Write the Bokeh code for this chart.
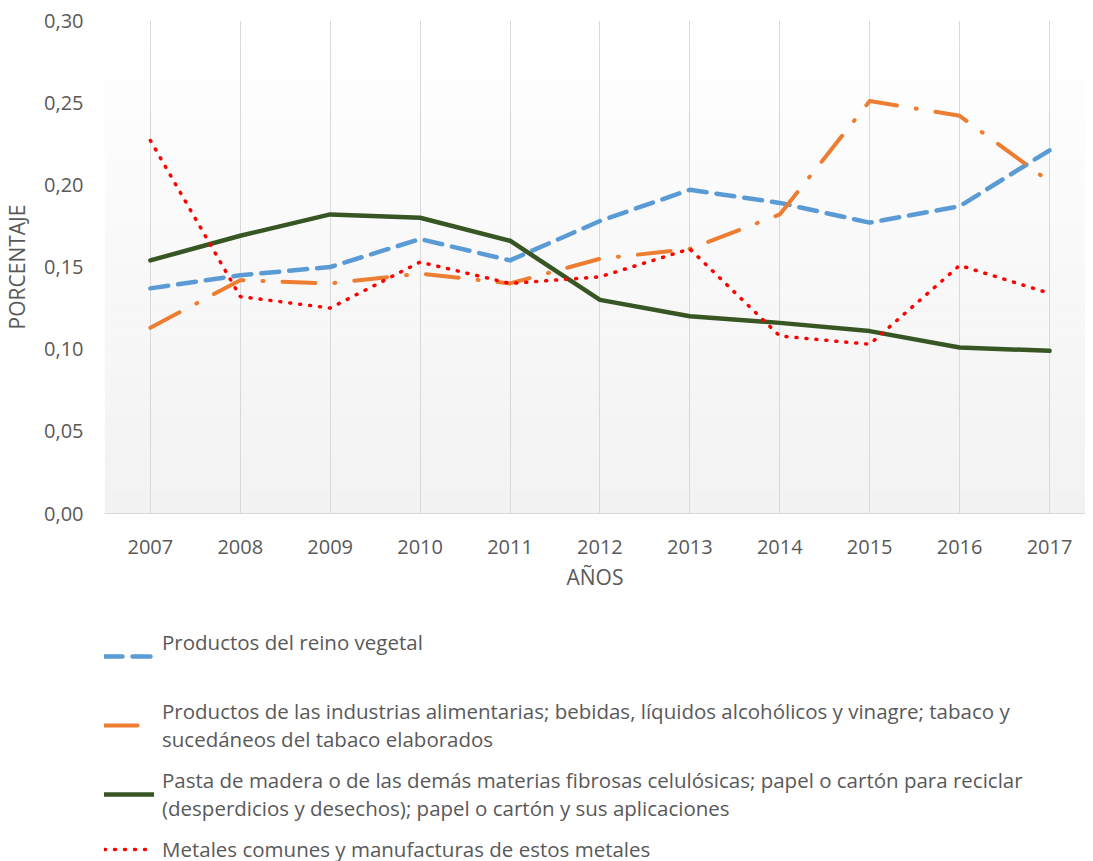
from bokeh.plotting import figure
from bokeh.layouts import column
from bokeh.models import (Legend, LegendItem, FixedTicker, CustomJSTickFormatter,
                          BoxAnnotation, Range1d)
from bokeh.embed import file_html
from bokeh.resources import INLINE

years = [2007, 2008, 2009, 2010, 2011, 2012, 2013, 2014, 2015, 2016, 2017]
vegetal = [0.137, 0.145, 0.150, 0.167, 0.154, 0.178, 0.197, 0.189, 0.177, 0.187, 0.221]
alimentarias = [0.113, 0.142, 0.140, 0.146, 0.140, 0.155, 0.161, 0.182, 0.251, 0.242, 0.202]
pasta = [0.154, 0.169, 0.182, 0.180, 0.166, 0.130, 0.120, 0.116, 0.111, 0.101, 0.099]
metales = [0.227, 0.132, 0.125, 0.153, 0.140, 0.144, 0.161, 0.108, 0.103, 0.151, 0.134]

series_labels = [
    "Productos del reino vegetal\n ",
    "Productos de las industrias alimentarias; bebidas, líquidos alcohólicos y vinagre; tabaco y\nsucedáneos del tabaco elaborados",
    "Pasta de madera o de las demás materias fibrosas celulósicas; papel o cartón para reciclar\n(desperdicios y desechos); papel o cartón y sus aplicaciones",
    "Metales comunes y manufacturas de estos metales",
]
y_ticks = [0.0, 0.05, 0.10, 0.15, 0.20, 0.25, 0.30]
x_title = "AÑOS"
y_title = "PORCENTAJE"

FONT = "Open Sans"
TXT = "#595959"

STYLES = [
    dict(line_color="#5B9BD5", line_width=4.5, line_dash="18 10"),
    dict(line_color="#ED7D31", line_width=4, line_dash="33 19 1 19"),
    dict(line_color="#375623", line_width=4.5, line_dash="solid"),
    dict(line_color="#FF0000", line_width=3.5, line_dash="1 9"),
]
SERIES = [vegetal, alimentarias, pasta, metales]

p = figure(width=1085, height=600, output_backend="svg", toolbar_location=None,
           x_range=Range1d(2006.49, 2017.40), y_range=Range1d(0, 0.30),
           min_border_left=97, min_border_right=0, min_border_top=20, min_border_bottom=87)
p.outline_line_color = None
p.background_fill_color = "white"
p.border_fill_color = "white"

# gradient plot-area background
n = 40
for i in range(n):
    t = i / (n - 1)
    c = int(round(255 - (255 - 242) * (1 - t)))
    col = "#%02x%02x%02x" % (c, c, c)
    p.add_layout(BoxAnnotation(bottom=0.30 * i / n, top=0.30 * (i + 1) / n,
                               fill_color=col, fill_alpha=1, line_alpha=0, level="image"))

p.xgrid.ticker = FixedTicker(ticks=years)
p.xgrid.grid_line_color = "#d9d9d9"
p.ygrid.grid_line_color = None

p.xaxis.ticker = FixedTicker(ticks=years)
p.xaxis.axis_line_color = "#d9d9d9"
p.xaxis.major_tick_line_color = None
p.xaxis.minor_tick_line_color = None
p.xaxis.major_label_text_font = FONT
p.xaxis.major_label_text_font_size = "20px"
p.xaxis.major_label_text_color = TXT
p.xaxis.major_label_standoff = 20
p.xaxis.axis_label = x_title
p.xaxis.axis_label_text_font = FONT
p.xaxis.axis_label_text_font_size = "21px"
p.xaxis.axis_label_text_font_style = "normal"
p.xaxis.axis_label_text_color = TXT
p.xaxis.axis_label_standoff = 6

p.yaxis.ticker = FixedTicker(ticks=y_ticks)
p.yaxis.formatter = CustomJSTickFormatter(code="return tick.toFixed(2).replace('.', ',');")
p.yaxis.axis_line_color = None
p.yaxis.major_tick_line_color = None
p.yaxis.minor_tick_line_color = None
p.yaxis.major_label_text_font = FONT
p.yaxis.major_label_text_font_size = "20px"
p.yaxis.major_label_text_color = TXT
p.yaxis.major_label_standoff = 15
p.yaxis.axis_label = y_title
p.yaxis.axis_label_text_font = FONT
p.yaxis.axis_label_text_font_size = "21px"
p.yaxis.axis_label_text_font_style = "normal"
p.yaxis.axis_label_text_color = TXT
p.yaxis.axis_label_standoff = 10

for vals, st in zip(SERIES, STYLES):
    p.line(years, vals, line_cap="round", line_join="round", **st)

# legend panel (separate figure below the chart); its renderers hold the same
# series but lie outside this panel's ranges, so only the legend shows
p2 = figure(width=1085, height=261, output_backend="svg", toolbar_location=None,
            x_axis_type=None, y_axis_type=None, x_range=Range1d(0, 1), y_range=Range1d(0, 1),
            min_border_left=58, min_border_top=28, min_border_right=0, min_border_bottom=0)
p2.outline_line_color = None
p2.grid.visible = False
p2.background_fill_color = "white"
p2.border_fill_color = "white"

items = []
for lab, vals, st in zip(series_labels, SERIES, STYLES):
    r = p2.line(years, vals, line_cap="round", line_join="round", **st)
    items.append(LegendItem(label=lab, renderers=[r]))

legend = Legend(items=items, location="top_left", orientation="vertical",
                label_text_font=FONT, label_text_font_size="20.5px", label_text_color=TXT,
                label_text_line_height=1.3,
                label_standoff=8, glyph_width=50, glyph_height=20, spacing=13,
                padding=0, margin=0, border_line_color=None, background_fill_alpha=0)
p2.add_layout(legend, "center")

open("out.html", "w").write(file_html(column(p, p2), INLINE))
